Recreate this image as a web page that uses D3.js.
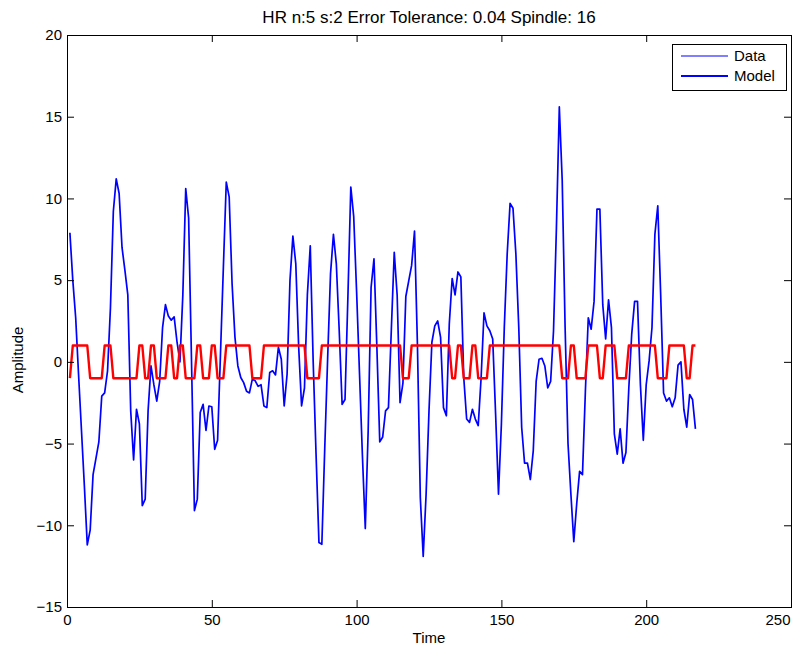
<!DOCTYPE html>
<html>
<head>
<meta charset="utf-8">
<script src="https://cdn.jsdelivr.net/npm/d3@7"></script>
<style>
  body { margin: 0; background: #fff; }
  text { font-family: "Liberation Sans", Arial, Helvetica, sans-serif; fill: #000; }
</style>
</head>
<body>
<svg id="chart" width="806" height="648"></svg>
<script>
// ---- chart text ----
const chartTitle = "HR n:5 s:2 Error Tolerance: 0.04 Spindle: 16";
const xLabel = "Time";
const yLabel = "Amplitude";
const seriesNames = ["Data", "Model"];

// ---- axes ----
const xDomain = [0, 250];
const yDomain = [-15, 20];
const xTicks = [0, 50, 100, 150, 200, 250];
const yTicks = [-15, -10, -5, 0, 5, 10, 15, 20];

// ---- measured signal, samples 1..217 ----
const dataValues = [
  7.9, 5.0, 2.7, -0.8, -4.2, -7.6, -11.2, -10.3, -6.9, -5.9,
  -4.9, -2.1, -1.9, -0.55, 3.3, 9.2, 11.2, 10.3, 7.0, 5.6,
  4.1, -3.0, -6.0, -2.9, -3.8, -8.8, -8.4, -3.0, -0.25, -1.4,
  -2.4, -1.2, 2.1, 3.5, 2.8, 2.55, 2.75, 1.2, 0.0, 4.1,
  10.6, 8.8, 0.0, -9.1, -8.4, -3.1, -2.6, -4.2, -2.7, -2.75,
  -5.35, -4.8, 0.5, 5.8, 11.0, 10.1, 4.8, 1.5, -0.25, -0.96,
  -1.27, -1.8, -1.9, -1.06, -1.16, -1.5, -1.4, -2.7, -2.8, -0.65,
  -0.55, -0.8, 0.9, 0.16, -2.7, -0.75, 5.0, 7.7, 6.0, 0.9,
  -2.7, -1.6, 4.1, 7.1, 0.06, -5.65, -11.06, -11.16, -5.3, 0.2,
  5.4, 7.8, 6.0, 1.9, -2.6, -2.3, 4.0, 10.7, 8.9, 4.3,
  -0.7, -5.7, -10.2, -4.2, 4.55, 6.3, 0.9, -4.9, -4.6, -3.0,
  -2.8, 2.0, 6.7, 4.1, -2.5, -1.3, 4.0, 4.96, 5.9, 8.0,
  1.1, -8.3, -11.9, -8.1, -3.0, 1.2, 2.2, 2.5, 1.5, -2.8,
  -3.3, 2.3, 5.1, 4.1, 5.5, 5.2, -0.96, -3.5, -3.7, -2.9,
  -3.5, -3.9, -0.96, 3.0, 2.2, 1.9, 1.4, -3.2, -8.1, -3.8,
  2.1, 6.6, 9.7, 9.4, 6.6, 2.1, -4.0, -6.2, -6.2, -7.2,
  -5.45, -1.2, 0.16, 0.22, -0.25, -1.6, -1.2, 1.9, 8.2, 15.6,
  11.1, 2.1, -5.0, -8.1, -11.0, -8.7, -6.7, -6.9, -1.8, 2.7,
  2.0, 3.7, 9.35, 9.35, 3.5, 1.4, 3.8, 2.1, -4.4, -5.65,
  -4.1, -6.2, -5.55, -1.6, 1.7, 3.7, 3.7, -1.4, -4.8, -1.4,
  0.06, 2.1, 7.8, 9.55, 4.1, -1.9, -2.4, -2.2, -2.75, -2.2,
  -0.2, 0.0, -2.9, -4.0, -2.0, -2.3, -4.1
];

// ---- fitted two-state model, samples 1..217 ----
const modelValues = [
  -1, 1, 1, 1, 1, 1, 1, -1, -1, -1,
  -1, -1, 1, 1, 1, -1, -1, -1, -1, -1,
  -1, -1, -1, -1, 1, 1, -1, -1, 1, 1,
  -1, -1, -1, -1, 1, 1, -1, -1, 1, 1,
  -1, -1, -1, -1, 1, 1, -1, -1, -1, 1,
  1, -1, -1, -1, 1, 1, 1, 1, 1, 1,
  1, 1, 1, -1, -1, -1, -1, 1, 1, 1,
  1, 1, 1, 1, 1, 1, 1, 1, 1, 1,
  1, 1, -1, -1, -1, -1, -1, 1, 1, 1,
  1, 1, 1, 1, 1, 1, 1, 1, 1, 1,
  1, 1, 1, 1, 1, 1, 1, 1, 1, 1,
  1, 1, 1, 1, 1, -1, -1, -1, 1, 1,
  1, 1, 1, 1, 1, 1, 1, 1, 1, 1,
  1, 1, -1, -1, 1, 1, -1, -1, -1, 1,
  1, -1, -1, -1, -1, 1, 1, 1, 1, 1,
  1, 1, 1, 1, 1, 1, 1, 1, 1, 1,
  1, 1, 1, 1, 1, 1, 1, 1, 1, 1,
  -1, -1, -1, 1, 1, -1, -1, -1, -1, 1,
  1, 1, 1, -1, -1, 1, 1, 1, 1, -1,
  -1, -1, -1, 1, 1, 1, 1, 1, 1, 1,
  1, 1, 1, -1, -1, -1, -1, 1, 1, 1,
  1, 1, 1, -1, -1, 1, 1
];

// ---- layout ----
const W = 806, H = 648;
const plot = { left: 67, right: 791, top: 35, bottom: 607 };
const tickLen = 7;
const fontSize = 15;
const titleSize = 17;

const svg = d3.select("#chart");
svg.append("rect").attr("width", W).attr("height", H).attr("fill", "#fff");

const x = d3.scaleLinear().domain(xDomain).range([plot.left, plot.right]);
const y = d3.scaleLinear().domain(yDomain).range([plot.bottom, plot.top]);

// series
const line = d3.line().x(d => x(d[0])).y(d => y(d[1]));
const dataPts = dataValues.map((v, i) => [i + 1, v]);
const modelPts = modelValues.map((v, i) => [i + 1, v]);

svg.append("path").datum(dataPts)
  .attr("d", line).attr("fill", "none")
  .attr("stroke", "#0000ff").attr("stroke-width", 1.7)
  .attr("stroke-linejoin", "round");

svg.append("path").datum(modelPts)
  .attr("d", line).attr("fill", "none")
  .attr("stroke", "#ff0000").attr("stroke-width", 2.4)
  .attr("stroke-linejoin", "round");

// axes with inward ticks on all four sides
function styleAxis(g) {
  g.select(".domain").remove();
  g.selectAll(".tick line").attr("stroke", "#000").attr("stroke-width", 1);
  g.selectAll(".tick text")
    .style("font-family", '"Liberation Sans", Arial, Helvetica, sans-serif')
    .style("font-size", fontSize + "px")
    .attr("fill", "#000");
}
const fmt = d => (d < 0 ? "\u2212" + Math.abs(d) : String(d));

const xAxisG = svg.append("g").attr("transform", `translate(0,${plot.bottom})`)
  .call(d3.axisBottom(x).tickValues(xTicks).tickFormat(fmt)
    .tickSizeInner(-tickLen).tickSizeOuter(0).tickPadding(7))
  .call(styleAxis);
// the last label sits flush with the right edge of the box
xAxisG.selectAll(".tick text")
  .filter(d => d === xDomain[1])
  .attr("text-anchor", "end").attr("x", -1);

svg.append("g").attr("transform", `translate(0,${plot.top})`)
  .call(d3.axisTop(x).tickValues(xTicks).tickFormat("")
    .tickSizeInner(-tickLen).tickSizeOuter(0))
  .call(styleAxis);

svg.append("g").attr("transform", `translate(${plot.left},0)`)
  .call(d3.axisLeft(y).tickValues(yTicks).tickFormat(fmt)
    .tickSizeInner(-tickLen).tickSizeOuter(0).tickPadding(5))
  .call(styleAxis);

svg.append("g").attr("transform", `translate(${plot.right},0)`)
  .call(d3.axisRight(y).tickValues(yTicks).tickFormat("")
    .tickSizeInner(-tickLen).tickSizeOuter(0))
  .call(styleAxis);

// axes box
svg.append("rect")
  .attr("x", plot.left + 0.5).attr("y", plot.top + 0.5)
  .attr("width", plot.right - plot.left).attr("height", plot.bottom - plot.top)
  .attr("fill", "none").attr("stroke", "#000").attr("stroke-width", 1);

// title and axis labels
svg.append("text")
  .attr("x", (plot.left + plot.right) / 2).attr("y", 23)
  .attr("text-anchor", "middle").style("font-size", titleSize + "px")
  .text(chartTitle);

svg.append("text")
  .attr("x", (plot.left + plot.right) / 2).attr("y", 643)
  .attr("text-anchor", "middle").style("font-size", fontSize + "px")
  .text(xLabel);

svg.append("text")
  .attr("transform", "translate(23,360) rotate(-90)")
  .attr("text-anchor", "middle").style("font-size", fontSize + "px")
  .text(yLabel);

// legend
const legend = svg.append("g").attr("transform", "translate(672,44)");
legend.append("rect")
  .attr("x", 0.5).attr("y", 0.5).attr("width", 114).attr("height", 46)
  .attr("fill", "#fff").attr("stroke", "#000").attr("stroke-width", 1);
const legendWidths = [1, 2];
seriesNames.forEach((name, i) => {
  const cy = 12 + i * 20;
  legend.append("line")
    .attr("x1", 9).attr("x2", 56).attr("y1", cy).attr("y2", cy)
    .attr("stroke", "#0000ff").attr("stroke-width", legendWidths[i]);
  legend.append("text")
    .attr("x", 62).attr("y", cy + 5)
    .style("font-size", fontSize + "px")
    .text(name);
});
</script>
</body>
</html>
